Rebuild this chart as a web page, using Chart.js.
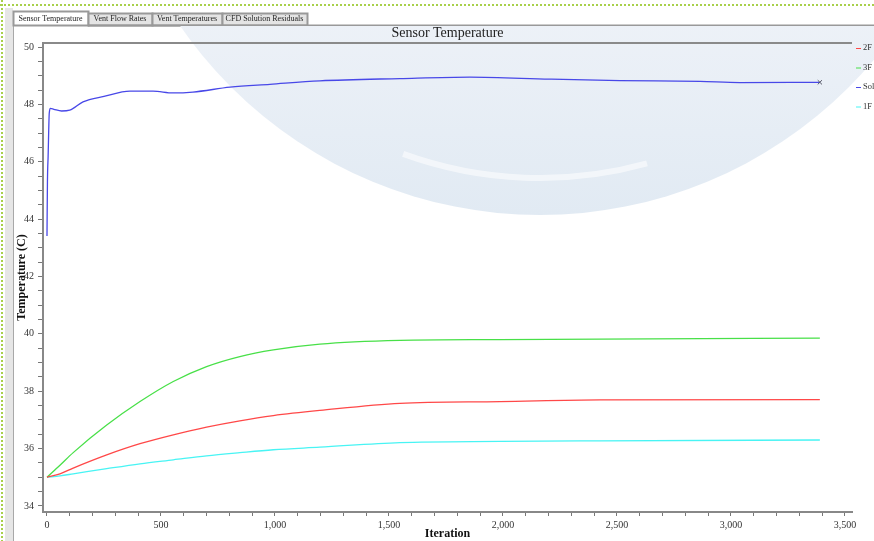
<!DOCTYPE html>
<html>
<head>
<meta charset="utf-8">
<script src="https://cdn.jsdelivr.net/npm/chart.js@4/dist/chart.umd.min.js"></script>
<style>
  body { margin: 0; background: #fff; }
  canvas { display: block; }
</style>
</head>
<body>
<canvas id="sensorChart" width="874" height="541"></canvas>
<script>
// values
const sensorLabels = ["2F", "3F", "Sol", "1F"];
const tabLabels = ["Sensor Temperature", "Vent Flow Rates", "Vent Temperatures", "CFD Solution Residuals"];

const iterFloor = [0, 57, 115, 262, 408, 554, 700, 846, 993, 1197, 1548, 1987, 2425, 3390];
const temp2F = [35.0, 35.12, 35.32, 35.78, 36.17, 36.48, 36.75, 36.97, 37.15, 37.33, 37.58, 37.64, 37.70, 37.71];
const temp3F = [35.0, 35.42, 35.86, 36.82, 37.64, 38.34, 38.86, 39.21, 39.44, 39.64, 39.77, 39.80, 39.82, 39.85];
const temp1F = [35.0, 35.05, 35.12, 35.30, 35.47, 35.61, 35.75, 35.86, 35.96, 36.05, 36.21, 36.25, 36.27, 36.30];

const iterSol = [0, 2, 5, 10, 15, 30, 64, 100, 158, 250, 364, 465, 553, 640, 803, 978, 1197, 1548, 1855, 2206, 2513, 2864, 3039, 3390];
const tempSol = [43.41, 45.3, 46.2, 47.7, 47.86, 47.83, 47.77, 47.8, 48.09, 48.28, 48.46, 48.46, 48.40, 48.43, 48.6, 48.7, 48.82, 48.9, 48.95, 48.88, 48.83, 48.8, 48.76, 48.77];

const xTicks = [];
for (let v = 0; v <= 3500; v += 100) xTicks.push(v);
const yTicks = [];
for (let v = 34; v <= 50; v += 0.5) yTicks.push(v);

const colors = ["#ff4848", "#48e048", "#4848e8", "#48f4f4"];
const serif = "'Liberation Serif', 'DejaVu Serif', serif";

function pts(xs, ys) {
    return xs.map((x, i) => ({ x: x, y: ys[i] }));
}

const chrome = {
    id: "chrome",
    beforeDraw(chart) {
        const ctx = chart.ctx;
        const area = chart.chartArea;
        ctx.save();
        // page + left strip
        ctx.fillStyle = "#fff";
        ctx.fillRect(0, 0, 874, 541);
        ctx.fillStyle = "#e6e6e6";
        ctx.fillRect(5, 8, 8, 533);
        ctx.strokeStyle = "#a8a8a8";
        ctx.lineWidth = 1;
        ctx.beginPath();
        ctx.moveTo(13.5, 25);
        ctx.lineTo(13.5, 541);
        ctx.stroke();
        // green dotted frame
        ctx.strokeStyle = "#a8d04a";
        ctx.setLineDash([2, 2]);
        ctx.lineWidth = 2;
        ctx.beginPath();
        ctx.moveTo(0, 5);
        ctx.lineTo(874, 5);
        ctx.moveTo(2, 0);
        ctx.lineTo(2, 541);
        ctx.stroke();
        ctx.setLineDash([]);
        // tabs
        const tabX = [13, 88, 152, 222, 307];
        ctx.font = "8px " + serif;
        ctx.textAlign = "center";
        ctx.textBaseline = "middle";
        for (let i = 0; i < tabLabels.length; i++) {
            const x0 = tabX[i], x1 = tabX[i + 1];
            const top = i === 0 ? 11 : 13;
            ctx.fillStyle = i === 0 ? "#fff" : "#e4e4e4";
            ctx.fillRect(x0, top, x1 - x0, 25 - top);
            ctx.strokeStyle = "#999";
            ctx.strokeRect(x0 + 0.5, top + 0.5, x1 - x0, 25 - top);
            ctx.fillStyle = "#222";
            ctx.fillText(tabLabels[i], (x0 + x1) / 2, 19);
        }
        ctx.strokeStyle = "#999";
        ctx.beginPath();
        ctx.moveTo(88, 25.5);
        ctx.lineTo(874, 25.5);
        ctx.stroke();
        // watermark disc
        ctx.beginPath();
        ctx.rect(14, 26, 860, 515);
        ctx.clip();
        const g = ctx.createLinearGradient(0, 0, 0, 215);
        g.addColorStop(0, "#eef2f8");
        g.addColorStop(1, "#e1eaf3");
        ctx.fillStyle = g;
        ctx.beginPath();
        ctx.arc(540, -222, 437, 0, Math.PI * 2);
        ctx.fill();
        ctx.strokeStyle = "rgba(255,255,255,0.55)";
        ctx.lineWidth = 6;
        ctx.beginPath();
        ctx.arc(540, -222, 400, 1.3, 1.92);
        ctx.stroke();
        ctx.restore();

        // title
        ctx.save();
        ctx.font = "14px " + serif;
        ctx.fillStyle = "#222";
        ctx.textAlign = "center";
        ctx.textBaseline = "middle";
        ctx.fillText("Sensor Temperature", (area.left + area.right) / 2, 33);
        ctx.strokeStyle = "#8a8a8a";
        ctx.lineWidth = 2;
        ctx.beginPath();
        ctx.moveTo(area.left - 1, area.top);
        ctx.lineTo(area.right, area.top);
        ctx.stroke();
        ctx.restore();
    },
    afterDraw(chart) {
        const ctx = chart.ctx;
        ctx.save();
        ctx.font = "8.5px " + serif;
        ctx.textBaseline = "middle";
        ctx.textAlign = "left";
        chart.data.datasets.forEach((ds, i) => {
            const y = 48 + i * 19.5;
            ctx.strokeStyle = ds.borderColor;
            ctx.lineWidth = 1;
            ctx.beginPath();
            ctx.moveTo(856, y + 0.5);
            ctx.lineTo(861, y + 0.5);
            ctx.stroke();
            ctx.fillStyle = "#333";
            ctx.fillText(ds.label, 863, y);
        });
        ctx.restore();
    }
};

const lastSol = iterSol.length - 1;

new Chart(document.getElementById("sensorChart").getContext("2d"), {
    type: "line",
    data: {
        datasets: [
            { label: sensorLabels[0], data: pts(iterFloor, temp2F), borderColor: colors[0] },
            { label: sensorLabels[1], data: pts(iterFloor, temp3F), borderColor: colors[1] },
            {
                label: sensorLabels[2],
                data: pts(iterSol, tempSol),
                borderColor: colors[2],
                pointStyle: "crossRot",
                pointRadius: (c) => (c.dataIndex === lastSol ? 3 : 0),
                pointBorderColor: "#556",
                pointBorderWidth: 1,
            },
            { label: sensorLabels[3], data: pts(iterFloor, temp1F), borderColor: colors[3] },
        ],
    },
    options: {
        responsive: false,
        animation: false,
        devicePixelRatio: 1,
        datasets: {
            line: {
                borderWidth: 1.3,
                pointRadius: 0,
                cubicInterpolationMode: "monotone",
                fill: false,
            },
        },
        layout: { padding: { left: 13, top: 43, right: 22, bottom: 0 } },
        plugins: {
            legend: { display: false },
            title: { display: false },
            tooltip: { enabled: false },
        },
        scales: {
            x: {
                type: "linear",
                min: -17.5,
                max: 3531,
                afterBuildTicks: (s) => { s.ticks = xTicks.map((v) => ({ value: v })); },
                afterFit: (s) => { s.height = 29; },
                grid: { drawOnChartArea: false, drawTicks: true, tickLength: 4, color: "#777" },
                border: { display: true, color: "#888", width: 2 },
                ticks: {
                    autoSkip: false,
                    maxRotation: 0,
                    padding: 3,
                    color: "#333",
                    font: { family: serif, size: 10 },
                    callback: (v) => (v % 500 === 0 ? v.toLocaleString("en-US") : ""),
                },
                title: {
                    display: true,
                    text: "Iteration",
                    color: "#111",
                    padding: { top: 2, bottom: 0 },
                    font: { family: serif, size: 12, weight: "bold" },
                },
            },
            y: {
                min: 33.79,
                max: 50.14,
                afterBuildTicks: (s) => { s.ticks = yTicks.map((v) => ({ value: v })); },
                afterFit: (s) => { s.width = 30; },
                grid: { drawOnChartArea: false, drawTicks: true, tickLength: 5, color: "#777" },
                border: { display: true, color: "#888", width: 2 },
                ticks: {
                    autoSkip: false,
                    padding: 4,
                    color: "#333",
                    font: { family: serif, size: 10 },
                    callback: (v) => (v % 2 === 0 ? String(v) : ""),
                },
                title: {
                    display: true,
                    text: "Temperature (C)",
                    color: "#111",
                    padding: { top: 2, bottom: 0 },
                    font: { family: serif, size: 12, weight: "bold" },
                },
            },
        },
    },
    plugins: [chrome],
});
</script>
</body>
</html>
